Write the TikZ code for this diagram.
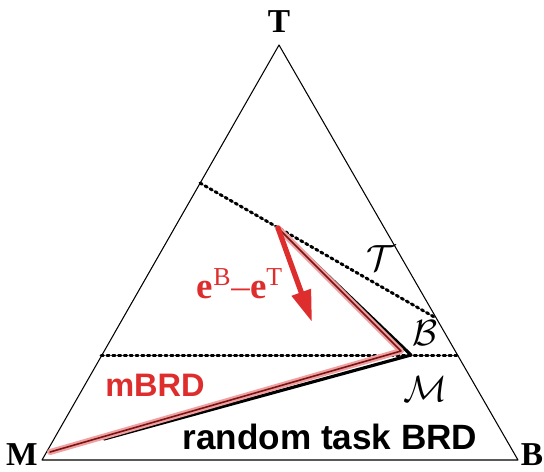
\documentclass[tikz,border=0pt]{standalone}
\usepackage{fontspec}
\setmainfont{Liberation Serif}
\setsansfont{Liberation Sans}
\usetikzlibrary{arrows.meta}
\definecolor{brdred}{RGB}{222,45,45}
\definecolor{brddark}{RGB}{120,20,20}
\begin{document}
\begin{tikzpicture}[line cap=round,line join=round,x=0.02cm,y=-0.02cm]
% simplex of T, M, B with two best-response paths

\useasboundingbox (0,0) rectangle (544,471);

\coordinate (T) at (279,45);
\coordinate (M) at (42,460);
\coordinate (B) at (518,460);
\coordinate (P) at (278,228);
\coordinate (Q) at (411,355);
\coordinate (Qr) at (401,351);
\coordinate (E) at (104,439);
\coordinate (Er) at (50,452);

% triangle edges
\draw[line width=0.6pt] (T)--(M)--(B)--cycle;

% indifference lines
\draw[line width=1.7pt,dash pattern=on 1.4pt off 1.9pt] (200,183)--(436,318);
\draw[line width=1.7pt,dash pattern=on 1.4pt off 1.9pt] (101,355)--(457,355);

% random task BRD path
\draw[line width=1.8pt] (P)--(Q)--(E);

% mBRD path
\draw[brdred!45,line width=3.4pt] (P)--(Qr)--(Er);
\draw[brddark,line width=0.9pt] (P)--(Qr)--(Er);

% direction e^B - e^T
\draw[brdred,line width=3pt,-{Triangle[length=18pt,width=11pt]}] (P)--(312,322);

% vertex labels
\node[font=\bfseries\fontsize{19}{20}\selectfont] (lT) at (279,22) {T};
\node[font=\bfseries\fontsize{19}{20}\selectfont] (lM) at (22,455) {M};
\node[font=\bfseries\fontsize{19}{20}\selectfont] (lB) at (532,455) {B};

% region labels
\node[font=\fontsize{21}{22}\selectfont] (rT) at (381,258) {$\mathcal{T}$};
\node[font=\fontsize{21}{22}\selectfont] (rB) at (425,333) {$\mathcal{B}$};
\node[font=\fontsize{21}{22}\selectfont] (rM) at (425,389) {$\mathcal{M}$};

% path labels
\node[text=brdred,font=\fontsize{21}{22}\selectfont] (ldir) at (240,284)
  {\textbf{e}\textsuperscript{B}--\textbf{e}\textsuperscript{T}};
\node[text=brdred,font=\sffamily\bfseries\fontsize{18.5}{20}\selectfont] (lm) at (155,385) {mBRD};
\node[font=\sffamily\bfseries\fontsize{20}{22}\selectfont] (lr) at (330,437) {random task BRD};

\end{tikzpicture}
\end{document}
